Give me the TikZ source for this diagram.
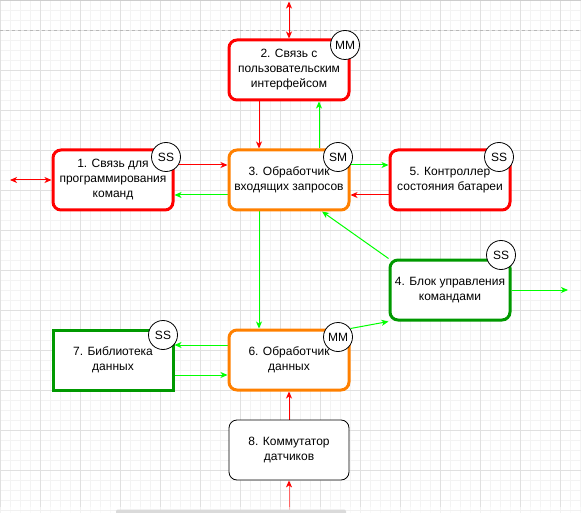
\documentclass[tikz,border=0pt]{standalone}
\usepackage{fontspec}
\setmainfont{Liberation Sans}
\usetikzlibrary{arrows.meta,backgrounds}

\definecolor{linkred}{HTML}{FF0000}
\definecolor{linkgreen}{HTML}{00FF00}
\definecolor{boxgreen}{HTML}{009900}
\definecolor{boxorange}{HTML}{FF8000}
\definecolor{gridminor}{HTML}{F3F3F3}
\definecolor{gridmajor}{HTML}{E0E0E0}
\definecolor{pageline}{HTML}{B8B8B8}
\definecolor{scrollbar}{HTML}{DADADA}

\begin{document}
\begin{tikzpicture}[x=1pt,y=-1pt,
  >={Stealth[length=7pt,width=6pt,inset=2pt]},
  block/.style={draw, line width=3pt, fill=white, minimum width=120pt,
    minimum height=60pt, rounded corners=8pt, align=center, inner sep=2pt,
    font=\fontsize{12}{15}\selectfont},
  redbox/.style={block, draw=linkred},
  orangebox/.style={block, draw=boxorange},
  greenbox/.style={block, draw=boxgreen},
  plainbox/.style={block, draw=black, line width=0.8pt},
  badge/.style={circle, draw=black, line width=0.8pt, fill=white,
    minimum size=29pt, inner sep=0pt, font=\fontsize{12}{14}\selectfont},
  redlink/.style={draw=linkred, line width=1pt},
  greenlink/.style={draw=linkgreen, line width=1pt},
]
\useasboundingbox (0,0) rectangle (581,513);

% blocks
\node[redbox]    (b1) at (113,180) {1. Связь для\\программирования\\команд};
\node[redbox]    (b2) at (289,70)  {2. Связь с\\пользовательским\\интерфейсом};
\node[orangebox] (b3) at (289,180) {3. Обработчик\\входящих запросов};
\node[redbox]    (b5) at (450,180) {5. Контроллер\\состояния батареи};
\node[greenbox]  (b4) at (450,290) {4. Блок управления\\командами};
\node[greenbox, sharp corners] (b7) at (113,360) {7. Библиотека\\данных};
\node[orangebox] (b6) at (289,360) {6. Обработчик\\данных};
\node[plainbox]  (b8) at (289,450) {8. Коммутатор\\датчиков};

% free ends of the external links
\coordinate (top)    at (289,1.5);
\coordinate (left)   at (10,180);
\coordinate (right)  at (568,290);
\coordinate (bottom) at (289,520);

\begin{scope}[on background layer]
  % canvas grid
  \fill[white] (0,0) rectangle (581,513);
  \foreach \x in {0,10,...,580} \draw[gridminor, line width=0.8pt] (\x,0) -- (\x,513);
  \foreach \y in {0,10,...,510} \draw[gridminor, line width=0.8pt] (0,\y) -- (581,\y);
  \foreach \x in {0,40,...,560} \draw[gridmajor, line width=0.8pt] (\x,0) -- (\x,513);
  \foreach \y in {30,70,...,510} \draw[gridmajor, line width=0.8pt] (0,\y) -- (581,\y);
  \draw[gridmajor!80!gray, line width=1pt] (0,0.5) -- (581,0.5);
  \draw[pageline, line width=0.8pt, dash pattern=on 3pt off 3pt] (0,30) -- (581,30);

  % links
  \draw[redlink, <->] (top) -- (b2.north);
  \draw[redlink, <->] (left) -- (b1.west);
  \draw[redlink, ->] ([xshift=-30pt]b2.south) -- ([xshift=-30pt]b3.north);
  \draw[greenlink, ->] ([xshift=30pt]b3.north) -- ([xshift=30pt]b2.south);
  \draw[redlink, ->] ([yshift=15pt]b1.east) -- ([yshift=15pt]b3.west);
  \draw[greenlink, ->] ([yshift=-15pt]b3.west) -- ([yshift=-15pt]b1.east);
  \draw[greenlink, ->] ([yshift=15pt]b3.east) -- ([yshift=15pt]b5.west);
  \draw[redlink, ->] ([yshift=-15pt]b5.west) -- ([yshift=-15pt]b3.east);
  \draw[greenlink, ->] ([xshift=-30pt]b3.south) -- ([xshift=-30pt]b6.north);
  \draw[greenlink, ->] (b4.north west) -- ([xshift=33pt]b3.south);
  \draw[greenlink, ->] (b4.east) -- (right);
  \draw[greenlink, ->] (b6.north east) -- (b4.south west);
  \draw[greenlink, ->] ([yshift=15pt]b6.west) -- ([yshift=15pt]b7.east);
  \draw[greenlink, ->] ([yshift=-15pt]b7.east) -- ([yshift=-15pt]b6.west);
  \draw[redlink, ->] (b8.north) -- (b6.south);
  \draw[draw=linkred!60, line width=1pt,
    -{Stealth[length=7pt,width=6pt,inset=2pt,color=linkred]}] (bottom) -- (b8.south);
\end{scope}

% role badges
\node[badge] (s1) at (166,157) {SS};
\node[badge] (s2) at (345,45)  {MM};
\node[badge] (s3) at (338,157) {SM};
\node[badge] (s5) at (499,157) {SS};
\node[badge] (s4) at (501,255) {SS};
\node[badge] (s7) at (163,335) {SS};
\node[badge] (s6) at (338,337) {MM};

% bottom scroll strip
\fill[white, opacity=0.55] (0,506.5) rectangle (581,513);
\fill[scrollbar, rounded corners=2pt] (116,509.5) rectangle (346,516);
\end{tikzpicture}
\end{document}
